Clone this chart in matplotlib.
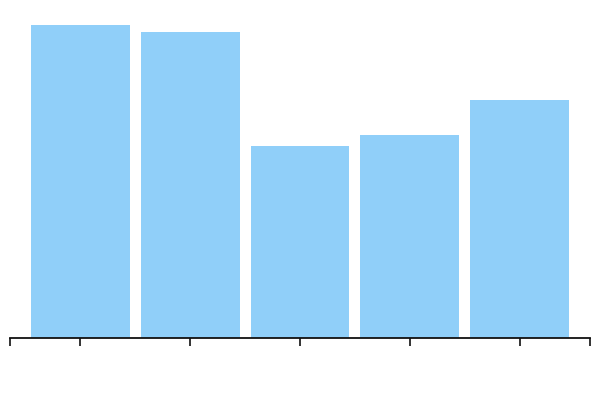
import matplotlib
matplotlib.use("Agg")
import matplotlib.pyplot as plt

categories = ["A", "B", "C", "D", "E"]
values = [100.0, 97.8, 61.3, 64.9, 76.0]

W, H = 600, 402
fig = plt.figure(figsize=(W / 100, H / 100), dpi=100)
# axes box in pixels: x 10..590, y 26..339 (from top)
ax = fig.add_axes([10 / W, (H - 339) / H, 580 / W, (339 - 26) / H])

x = list(range(len(categories)))
ax.bar(x, values, width=0.9, color="#90cff9", zorder=1)

pad = 70.5 / 110
xmin, xmax = -pad, len(categories) - 1 + pad
ax.set_xlim(xmin, xmax)
ax.set_ylim(0, max(values))

ax.set_xticks([xmin] + x + [xmax])
ax.set_xticklabels([""] * (len(x) + 2))
ax.tick_params(axis="x", direction="out", length=6, width=1.2, color="#111111")
ax.set_yticks([])

for side in ["top", "right", "left"]:
    ax.spines[side].set_visible(False)
ax.spines["bottom"].set_linewidth(1.3)
ax.spines["bottom"].set_color("#111111")
ax.spines["bottom"].set_zorder(3)

fig.savefig("out.png", dpi=100)
